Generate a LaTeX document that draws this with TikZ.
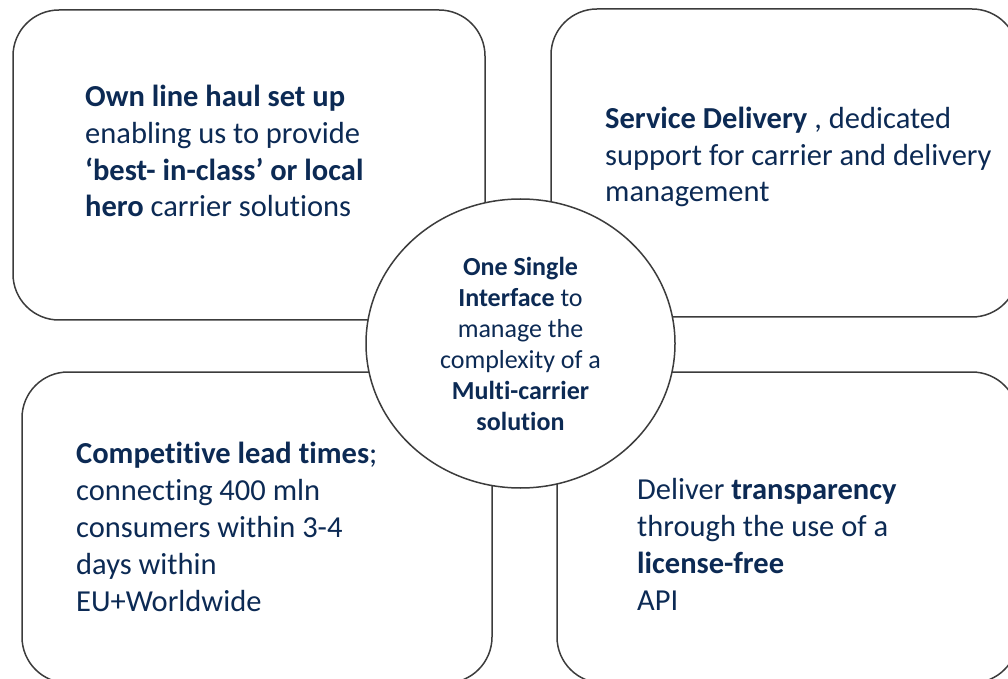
\documentclass[tikz,border=0pt]{standalone}
\usepackage{fontspec}
\setmainfont[Ligatures=NoCommon]{Carlito}
\usetikzlibrary{shapes.geometric}
\definecolor{navy}{RGB}{12,42,84}
\definecolor{edge}{RGB}{60,60,60}
\begin{document}
\begin{tikzpicture}[x=1pt,y=1pt,
  card/.style={draw=edge, line width=1.5pt, rounded corners=46pt, fill=white, inner sep=0pt},
  hub/.style={ellipse, draw=edge, line width=1.5pt, fill=white, inner sep=0pt,
    minimum width=309pt, minimum height=289pt, align=center, text=navy,
    font=\fontsize{26}{31}\selectfont},
  txt/.style={anchor=base west, align=left, inner sep=0pt, text=navy,
    font=\fontsize{30.5}{36.8}\selectfont}]
\useasboundingbox (0,0) rectangle (1008,678);
\clip (0,0) rectangle (1008,678);
% the four cards
\node[card, minimum width=472pt, minimum height=310pt] (haul) at (249,513){};
\node[card, minimum width=467pt, minimum height=308pt] (service) at (784.5,515){};
\node[card, minimum width=470pt, minimum height=311pt] (lead) at (257,150.5){};
\node[card, minimum width=461pt, minimum height=311pt] (api) at (787.5,150.5){};
% texts, placed by the baseline of their last line
\node[txt] (haultxt) at (85,461){\textbf{Own line haul set up}\\enabling us to provide\\\textbf{‘best- in-class’ or local}\\\textbf{hero} carrier solutions};
\node[txt] (servicetxt) at (605,476){\textbf{Service Delivery} , dedicated\\support for carrier and delivery\\management};
\node[txt] (leadtxt) at (76,67){\textbf{Competitive lead times};\\connecting 400 mln\\consumers within 3-4\\days within\\EU+Worldwide};
\node[txt] (apitxt) at (637,68){Deliver \textbf{transparency}\\through the use of a\\\textbf{license-free}\\API};
% centre
\node[hub] (single) at (520.5,334.5){\textbf{One Single}\\\textbf{Interface} to\\manage the\\complexity of a\\\textbf{Multi-carrier}\\\textbf{solution}};
\end{tikzpicture}
\end{document}
